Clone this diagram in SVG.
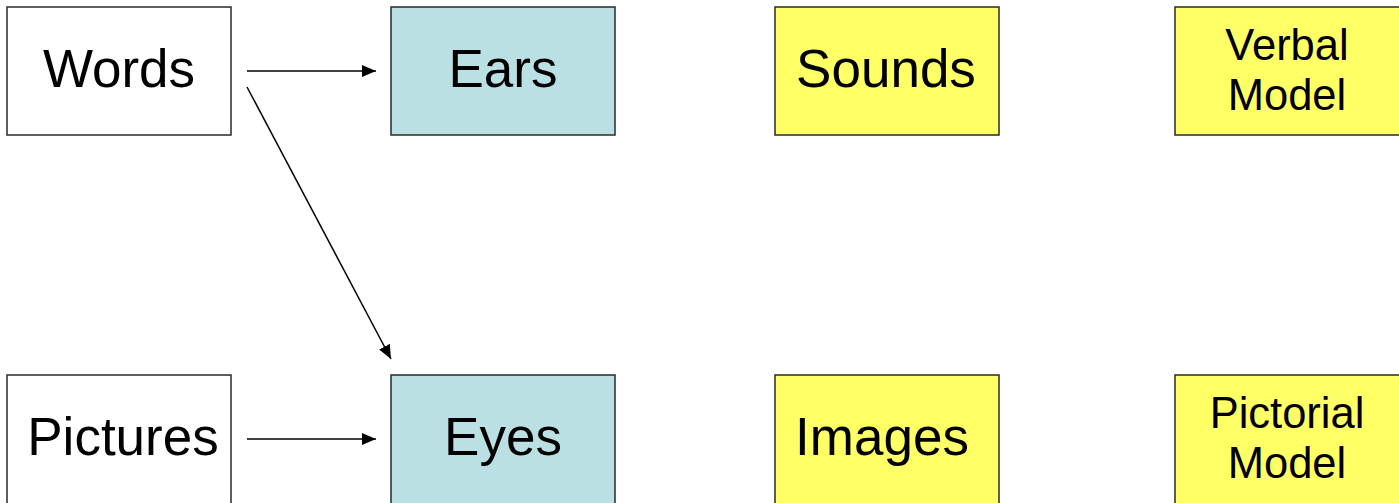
<svg xmlns="http://www.w3.org/2000/svg" width="1399" height="503" viewBox="0 0 1399 503">
<style>
.box{stroke:#2a2a2a;stroke-width:1.5}
.w{fill:#ffffff}
.b{fill:#bbe0e3}
.y{fill:#ffff66}
text{font-family:"Liberation Sans",Arial,sans-serif;fill:#000;text-anchor:middle}
.big{font-size:53px}
.sm{font-size:43.5px}
.c{stroke:#000;stroke-width:1.5;fill:none}
</style>
<defs>
<marker id="ah" viewBox="0 0 14 12" refX="14" refY="6" markerWidth="14" markerHeight="12" markerUnits="userSpaceOnUse" orient="auto">
<path d="M0,0 L14,6 L0,12 z" fill="#000"/>
</marker>
</defs>
<g id="words"><rect class="box w" x="7" y="7" width="224" height="128"/><text class="big" x="119" y="87">Words</text></g>
<g id="ears"><rect class="box b" x="391" y="7" width="224" height="128"/><text class="big" x="503" y="87">Ears</text></g>
<g id="sounds"><rect class="box y" x="775" y="7" width="224" height="128"/><text class="big" x="886" y="87">Sounds</text></g>
<g id="verbal"><rect class="box y" x="1175" y="7" width="230" height="128"/><text class="sm" x="1287" y="60">Verbal</text><text class="sm" x="1287" y="110">Model</text></g>
<g id="pictures"><rect class="box w" x="7" y="375" width="224" height="135"/><text class="big" x="123" y="455">Pictures</text></g>
<g id="eyes"><rect class="box b" x="391" y="375" width="224" height="135"/><text class="big" x="503" y="455">Eyes</text></g>
<g id="images"><rect class="box y" x="775" y="375" width="224" height="135"/><text class="big" x="882" y="455">Images</text></g>
<g id="pictorial"><rect class="box y" x="1175" y="375" width="230" height="135"/><text class="sm" x="1287" y="428">Pictorial</text><text class="sm" x="1287" y="478">Model</text></g>
<g id="connectors">
<line class="c" x1="247" y1="71" x2="376" y2="71" marker-end="url(#ah)"/>
<line class="c" x1="247" y1="87" x2="391" y2="359" marker-end="url(#ah)"/>
<line class="c" x1="247" y1="439" x2="376" y2="439" marker-end="url(#ah)"/>
</g>
</svg>
